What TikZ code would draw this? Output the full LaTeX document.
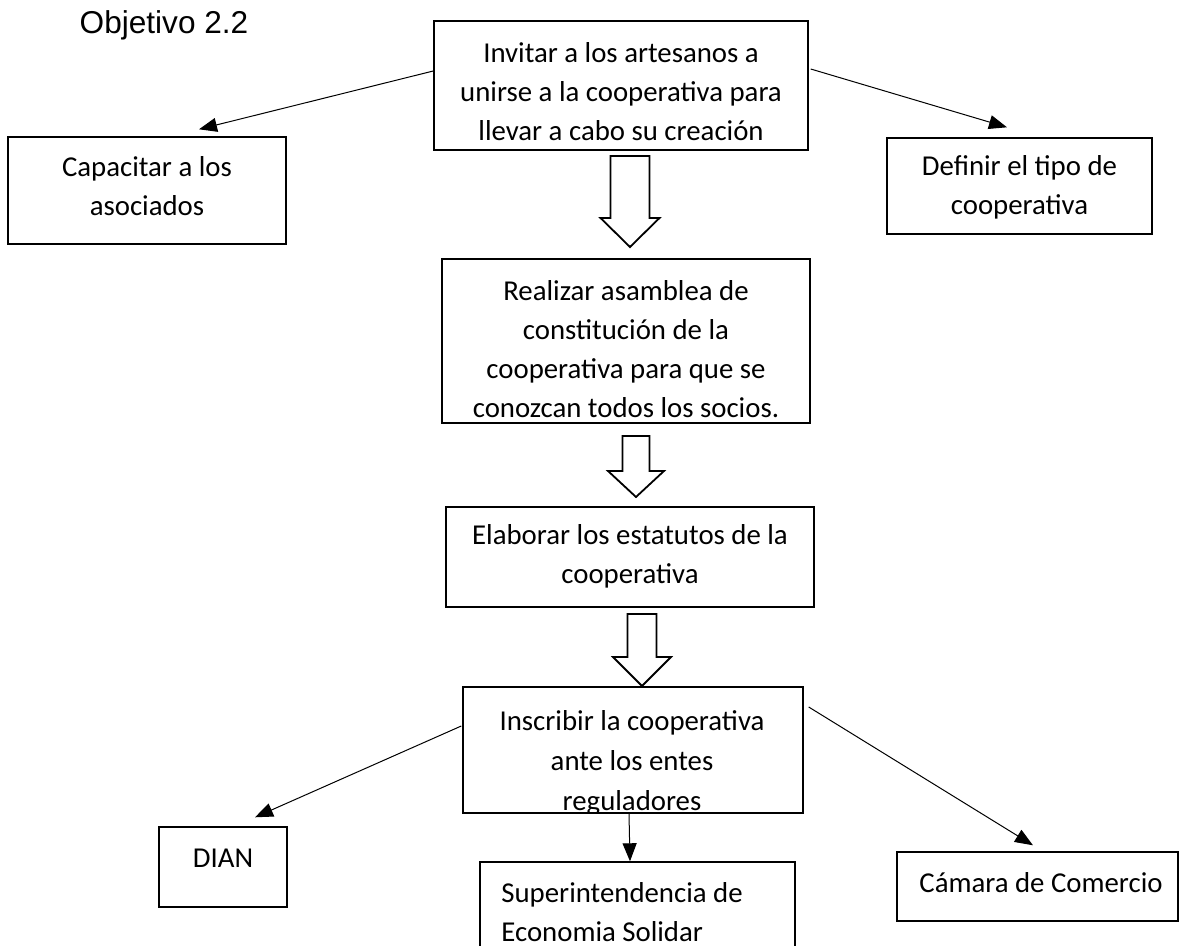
\documentclass[tikz,border=0pt]{standalone}
\usepackage{fontspec}
\setmainfont{Carlito}
\newfontfamily\arialfont{Liberation Sans}
\usetikzlibrary{arrows.meta,calc}
\tikzset{
  boxnode/.style={draw=black, line width=0.7pt, inner sep=0pt, fill=white},
  txt/.style={inner sep=0pt, align=center, font=\fontsize{14.4}{19.5}\selectfont},
  thinarrow/.style={line width=0.5pt, -{Triangle[length=9pt,width=7pt]}},
  blockarrow/.style={draw=black, line width=0.9pt, fill=white, line join=miter}
}
\newcommand{\blockdown}[6]{% x, ytop, ytip, shaft half width, head half width, head length
  \draw[blockarrow] (#1-#4,#2) -- (#1+#4,#2) -- (#1+#4,#3-#6) -- (#1+#5,#3-#6) -- (#1,#3)
    -- (#1-#5,#3-#6) -- (#1-#4,#3-#6) -- cycle;}
\begin{document}
\begin{tikzpicture}[x=0.5pt,y=-0.5pt]
\useasboundingbox (0,0) rectangle (1180,946);
\fill[white] (0,0) rectangle (1180,946);

% title
\node[inner sep=0pt, font=\arialfont\fontsize{15.8}{19}\selectfont] (obj) at (164,25) {Objetivo 2.2};

% boxes
\node[boxnode, minimum width=187pt, minimum height=64.5pt] (top) at (621,85.5) {};
\node[boxnode, minimum width=139pt, minimum height=53.5pt] (cap) at (147,190.5) {};
\node[boxnode, minimum width=132.5pt, minimum height=48pt] (def) at (1019.5,186) {};
\node[boxnode, minimum width=184pt, minimum height=82pt] (real) at (626,341) {};
\node[boxnode, minimum width=184pt, minimum height=50pt] (elab) at (630,557) {};
\node[boxnode, minimum width=170pt, minimum height=63pt] (insc) at (633,750) {};
\node[boxnode, minimum width=64pt, minimum height=40pt] (dian) at (223,867) {};
\node[boxnode, minimum width=157.5pt, minimum height=65pt] (sup) at (637.5,927) {};
\node[boxnode, minimum width=140.5pt, minimum height=34.5pt] (cam) at (1037.5,886.5) {};

% texts
\node[txt] (toptxt) at (621,92) {Invitar a los artesanos a\\unirse a la cooperativa para\\llevar a cabo su creación};
\node[txt] (captxt) at (147,186) {Capacitar a los\\asociados};
\node[txt] (deftxt) at (1019.5,187.5) {Definir el tipo de\\cooperativa};
\node[txt] (realtxt) at (626,349) {Realizar asamblea de\\constitución de la\\cooperativa para que se\\conozcan todos los socios.};
\node[txt] (elabtxt) at (630,556) {Elaborar los estatutos de la\\cooperativa};
\begin{scope}
  \clip (insc.south west) rectangle (insc.north east);
  \node[txt, font=\fontsize{14.4}{19.8}\selectfont] (insctxt) at (632,763) {Inscribir la cooperativa\\ante los entes\\reguladores};
\end{scope}
\node[txt] (diantxt) at (223,858) {DIAN};
\node[txt] (camtxt) at (1041,883) {Cámara de Comercio};
\node[txt, anchor=west, align=left] (suptxt) at (501,912.5) {Superintendencia de\\Economia Solidar};

% thin arrows
\draw[thinarrow] ($(top.west)+(0,-14.5)$) -- ($(cap.north)+(52,-7)$);
\draw[thinarrow] ($(top.east)+(2,-16.5)$) -- ($(def.north)+(-12.5,-10)$);
\draw[thinarrow] ($(insc.west)+(-1,-24)$) -- ($(dian.north)+(32,-9)$);
\draw[thinarrow] ($(insc.south)+(-4,0)$) -- ($(sup.north)+(-7.5,0)$);
\draw[thinarrow] ($(insc.east)+(5,-43)$) -- ($(cam.north)+(-4.5,-6)$);

% block arrows
\blockdown{630}{156}{247}{19.5}{29.5}{29}
\blockdown{636}{436}{497}{13.5}{28}{26}
\blockdown{642}{614}{686}{14.5}{29}{29}
\end{tikzpicture}
\end{document}
